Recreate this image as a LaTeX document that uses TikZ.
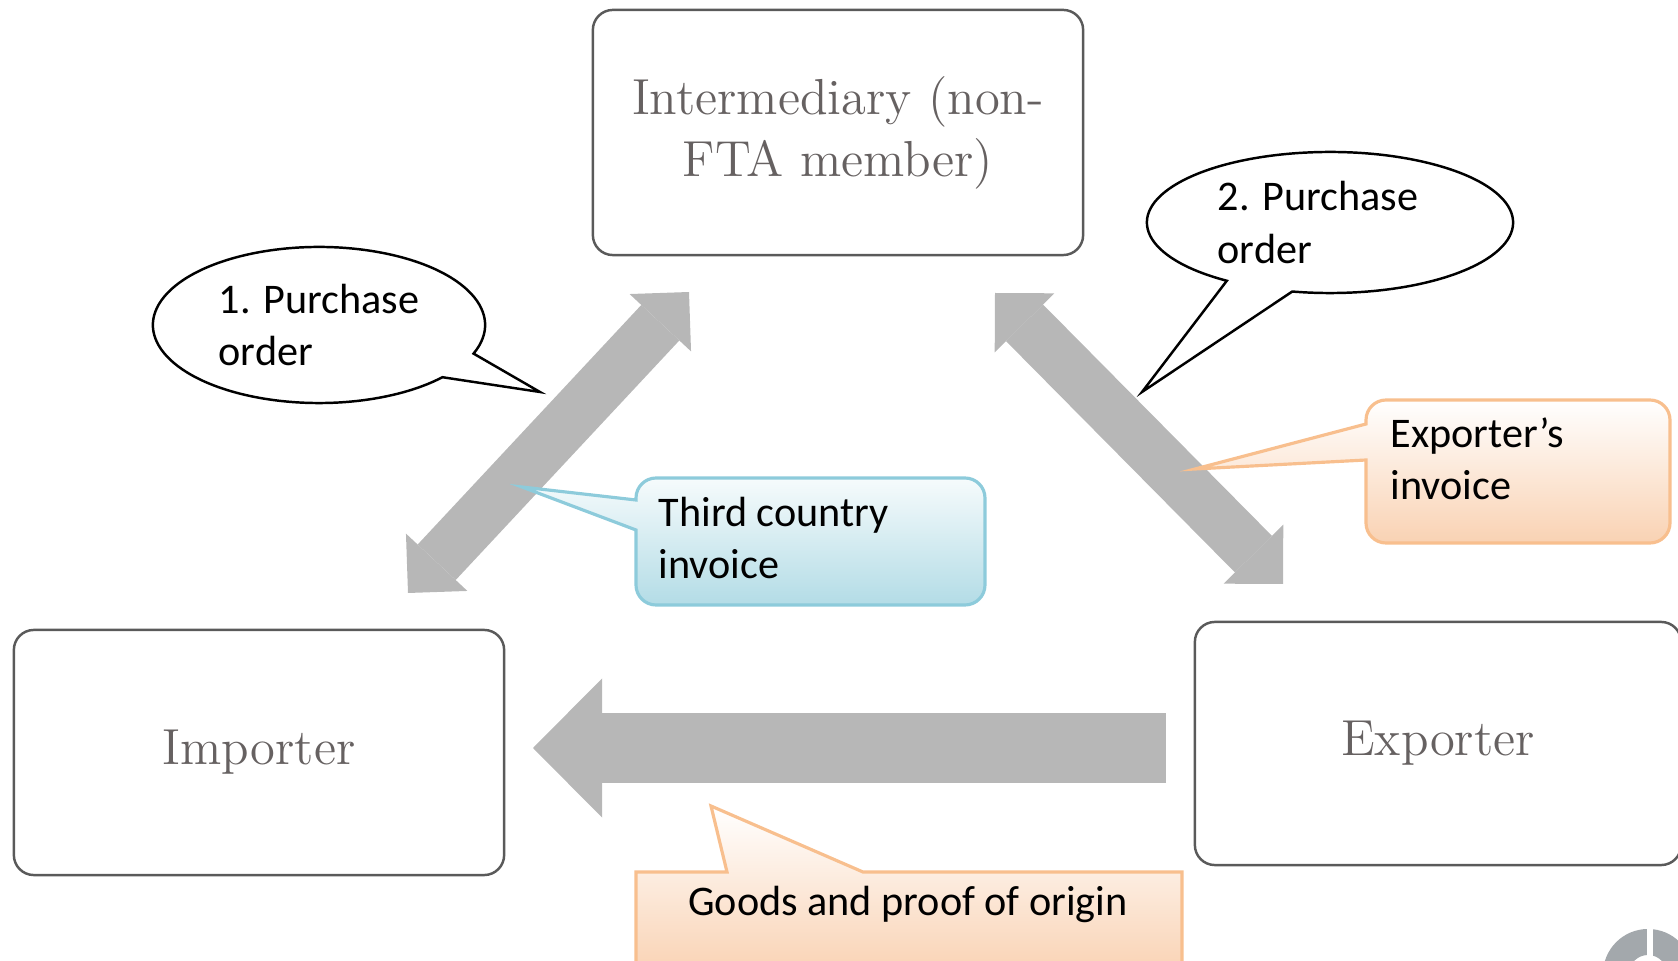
\documentclass[tikz,border=0pt]{standalone}
\usepackage{fontspec}
\usetikzlibrary{arrows.meta}
\newfontfamily\calibri{Carlito}

\definecolor{boxline}{HTML}{5A5A5A}
\definecolor{boxtext}{HTML}{666161}
\definecolor{flowgray}{HTML}{B7B7B7}
\definecolor{blueline}{HTML}{8DCBDB}
\definecolor{bluetop}{HTML}{F6FBFC}
\definecolor{bluefill}{HTML}{B3DCE6}
\definecolor{peachline}{HTML}{F8BF8E}
\definecolor{peachfill}{HTML}{F9D2B3}
\definecolor{logogray}{HTML}{A3A8AC}

\begin{document}
\begin{tikzpicture}[x=0.01cm, y=-0.01cm,
    party/.style={draw=boxline, line width=0.7pt, rounded corners=0.2cm,
        minimum width=4.9cm, minimum height=2.45cm, align=center,
        text=boxtext, font=\fontsize{14.4}{17.6}\selectfont},
    bubble/.style={draw=black, fill=white, line width=0.7pt},
    notetext/.style={align=left, inner sep=0pt, font=\calibri\fontsize{12}{14.8}\selectfont},
    bluenote/.style={draw=blueline, line width=0.9pt, top color=bluetop, bottom color=bluefill},
    peachnote/.style={draw=peachline, line width=0.9pt, top color=white, bottom color=peachfill},
    bigflow/.style={draw=flowgray, line width=0.52cm,
        {Triangle[length=0.42cm, width=0.84cm, line width=0pt]}-{Triangle[length=0.42cm, width=0.84cm, line width=0pt]}},
    goodsflow/.style={draw=flowgray, line width=0.7cm,
        -{Triangle[length=0.69cm, width=1.39cm, line width=0pt]}}]
    \useasboundingbox (0,0) rectangle (1678,961);
    \clip (0,0) rectangle (1678,961);

    % Parties
    \node[party] (inter) at (838,132.5) {Intermediary (non-\\FTA member)};
    \node[party] (imp) at (259,752.5) {Importer};
    \node[party, minimum width=4.86cm, minimum height=2.43cm] (exp) at (1438,743.5) {Exporter};

    % Flows
    \coordinate (impup) at (408,593);
    \coordinate (interleft) at (689,292);
    \coordinate (interright) at (995,293);
    \coordinate (expup) at (1283,584);
    \coordinate (expleft) at (1166,748);
    \coordinate (impright) at (533,748);
    \draw[bigflow] (impup) -- (interleft);
    \draw[bigflow] (interright) -- (expup);
    \draw[goodsflow] (expleft) -- (impright);

    % Purchase orders
    \coordinate (bubA) at (319,325);
    \coordinate (tipA) at (540,392);
    \draw[bubble] (bubA) ++(-21.5:1.66cm and 0.78cm)
        arc[start angle=-21.5, end angle=318, x radius=1.66cm, y radius=0.78cm] -- (tipA) -- cycle;
    \node[notetext] (orderA) at (bubA) {1. Purchase\\order};

    \coordinate (bubB) at (1330,222.5);
    \coordinate (tipB) at (1142,392);
    \draw[bubble] (bubB) ++(235.7:1.83cm and 0.705cm)
        arc[start angle=235.7, end angle=-101.9, x radius=1.83cm, y radius=0.705cm] -- (tipB) -- cycle;
    \node[notetext] (orderB) at (1318,222.5) {2. Purchase\\order};

    % Invoices
    \path[bluenote, rounded corners=0.2cm] (800,478) -- (985,478) -- (985,605) -- (636,605) -- (636,555)
        [sharp corners] -- (636,530) -- (522,487) -- (636,500) [rounded corners=0.2cm] -- (636,478) -- cycle;
    \node[notetext, anchor=west] (thirdinv) at (658,538) {Third country\\invoice};

    \path[peachnote, rounded corners=0.2cm] (1520,400) -- (1670,400) -- (1670,543) -- (1366,543) -- (1366,485)
        [sharp corners] -- (1366,460) -- (1195,469) -- (1366,424) [rounded corners=0.2cm] -- (1366,400) -- cycle;
    \node[notetext, anchor=west] (expinv) at (1390,459) {Exporter’s\\invoice};

    % Goods
    \path[peachnote] (636,872) -- (727,872) -- (711,806) -- (863,872) -- (1182,872) -- (1182,975) -- (636,975) -- cycle;
    \node[notetext, anchor=base] (goodsorig) at (908,915) {Goods and proof of origin};

    % Logo corner
    \fill[logogray, even odd rule] (1648,974) circle[radius=0.45cm] (1648,974) circle[radius=0.19cm];
    \fill[white] (1647,920) rectangle (1653,961);
\end{tikzpicture}
\end{document}
